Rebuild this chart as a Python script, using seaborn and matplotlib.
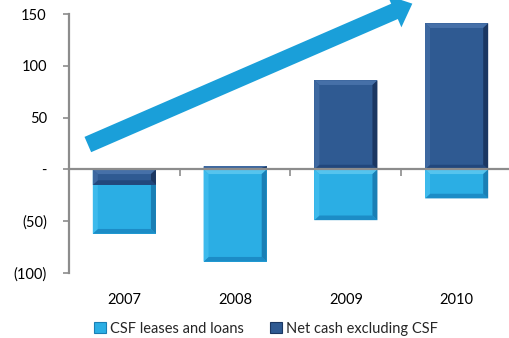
import matplotlib
matplotlib.use("Agg")
import matplotlib.pyplot as plt
from matplotlib.patches import Patch, Polygon
import seaborn as sns
import pandas as pd

# Values (in millions)
years = ["2007", "2008", "2009", "2010"]
csf_leases_loans = [-47, -89, -49, -28]
net_cash_ex_csf = [-15, 3, 86, 141]
y_ticks = [-100, -50, 0, 50, 100, 150]
y_tick_labels = ["(100)", "(50)", "-", "50", "100", "150"]
series_names = ["CSF leases and loans", "Net cash excluding CSF"]

LIGHT = "#2BAEE4"
DARK = "#2F5A92"
ARROW = "#1A9FD9"
AXIS_GREY = "#8C8C8C"

sns.set_theme(style="white")
plt.rcParams["font.family"] = ["Lato", "DejaVu Sans"]

fig = plt.figure(figsize=(5.1, 3.38), dpi=100)
ax = fig.add_axes([69 / 510, 1 - 273 / 338, 443 / 510, 259 / 338])

# Negative net cash sits directly under zero; CSF stacks below it.
csf_bottom_totals = [c + min(n, 0) for c, n in zip(csf_leases_loans, net_cash_ex_csf)]
df = pd.DataFrame({"year": years, "csf_total": csf_bottom_totals, "net": net_cash_ex_csf})

sns.barplot(data=df, x="year", y="csf_total", color=LIGHT, saturation=1,
            width=0.57, ax=ax, edgecolor="none", linewidth=0, zorder=2)
n_light = len(ax.patches)
sns.barplot(data=df, x="year", y="net", color=DARK, saturation=1,
            width=0.57, ax=ax, edgecolor="none", linewidth=0, zorder=3)


def add_bevel(patch, top, left, right, bottom, z):
    x0 = patch.get_x()
    w = patch.get_width()
    y0 = patch.get_y()
    h = patch.get_height()
    ya, yb = min(y0, y0 + h), max(y0, y0 + h)
    bx = 0.045
    by = min(4.5, (yb - ya) / 2)
    xa, xb = x0, x0 + w
    shapes = [
        ([(xa, yb), (xb, yb), (xb - bx, yb - by), (xa + bx, yb - by)], top),
        ([(xa, ya), (xb, ya), (xb - bx, ya + by), (xa + bx, ya + by)], bottom),
        ([(xa, ya), (xa, yb), (xa + bx, yb - by), (xa + bx, ya + by)], left),
        ([(xb, ya), (xb, yb), (xb - bx, yb - by), (xb - bx, ya + by)], right),
    ]
    for pts, col in shapes:
        ax.add_patch(Polygon(pts, closed=True, facecolor=col, edgecolor="none", zorder=z))


for i, p in enumerate(ax.patches[:]):
    if i < n_light:
        add_bevel(p, "#55C4EE", "#3DBAEC", "#1A7FB5", "#1C8CC6", 2.5)
    else:
        add_bevel(p, "#4670A8", "#3D68A0", "#1B3762", "#22477C", 3.5)

ax.set_xlim(-0.5, 3.5)
ax.set_ylim(-100, 150)

# Axis styling
for s in ["top", "right"]:
    ax.spines[s].set_visible(False)
ax.spines["left"].set_color(AXIS_GREY)
ax.spines["left"].set_linewidth(1.6)
ax.spines["bottom"].set_position(("data", 0))
ax.spines["bottom"].set_color(AXIS_GREY)
ax.spines["bottom"].set_linewidth(1.6)
ax.spines["bottom"].set_zorder(4)

ax.set_yticks(y_ticks)
ax.set_yticklabels(y_tick_labels)
ax.tick_params(axis="y", direction="out", length=4, width=1.2, color=AXIS_GREY,
               labelsize=10.5, labelcolor="black", pad=12, left=True)

ax.set_xticks(range(len(years)))
ax.set_xticklabels(years)
ax.tick_params(axis="x", which="major", length=0, pad=89, labelsize=10.5,
               labelcolor="black", bottom=True)
ax.set_xticks([0.5, 1.5, 2.5], minor=True)
ax.tick_params(axis="x", which="minor", direction="out", length=5, width=1.2,
               color=AXIS_GREY, bottom=True)
ax.set_xlabel("")
ax.set_ylabel("")
ax.grid(False)

# Growth arrow
ax.annotate("", xy=(2.6, 160), xytext=(-0.33, 24), annotation_clip=False,
            arrowprops=dict(arrowstyle="simple,head_length=14,head_width=25,tail_width=12",
                            mutation_scale=1, color=ARROW, shrinkA=0, shrinkB=0,
                            linewidth=0),
            zorder=5)

handles = [Patch(facecolor=LIGHT, edgecolor="#1A7FB5", linewidth=0.8),
           Patch(facecolor=DARK, edgecolor="#1B3762", linewidth=0.8)]
fig.legend(handles, series_names, loc="lower center", bbox_to_anchor=(0.522, -0.032),
           ncol=2, frameon=False, fontsize=10.5, handlelength=0.8, handleheight=0.8,
           handletextpad=0.3, columnspacing=1.8)

fig.savefig("out.png", dpi=100)
